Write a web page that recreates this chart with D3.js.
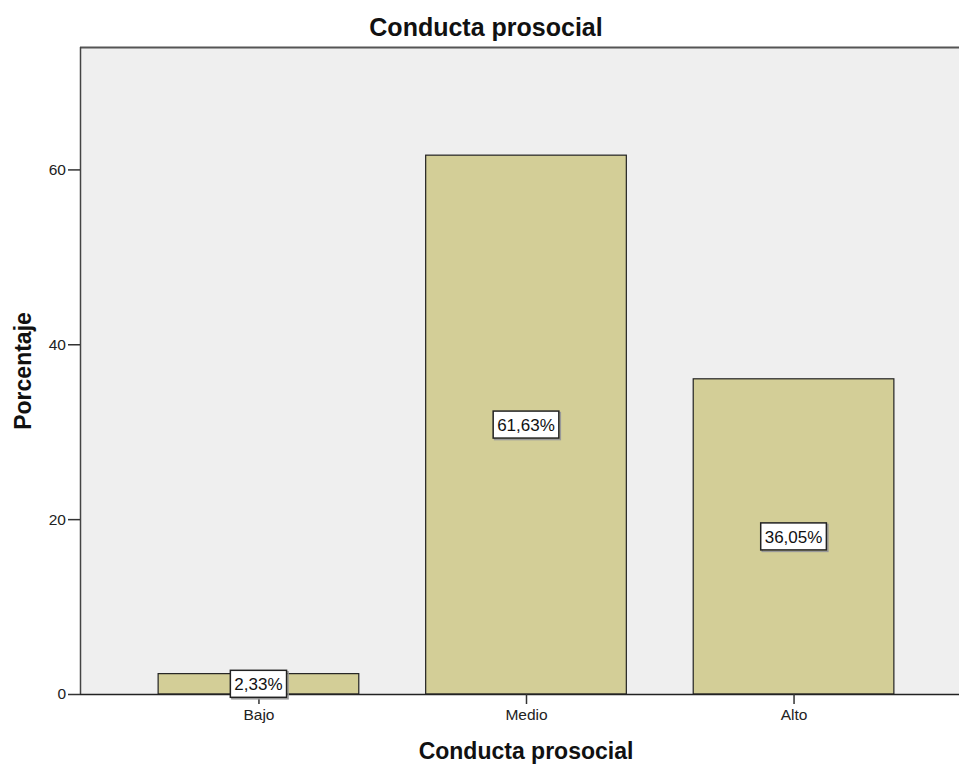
<!DOCTYPE html>
<html>
<head>
<meta charset="utf-8">
<script src="https://cdn.jsdelivr.net/npm/d3@7"></script>
<style>
  html, body { margin: 0; padding: 0; background: #fff; overflow: hidden; }
  svg { display: block; font-family: "Liberation Sans", Arial, sans-serif; }
</style>
</head>
<body>
<svg id="chart" width="959" height="765"></svg>
<script>
const categories = ["Bajo", "Medio", "Alto"];
const percentages = [2.33, 61.63, 36.05];
const valueLabels = ["2,33%", "61,63%", "36,05%"];
const yTicks = [0, 20, 40, 60];
const chartTitle = "Conducta prosocial";
const xTitle = "Conducta prosocial";
const yTitle = "Porcentaje";

const svg = d3.select("#chart");
const plot = { left: 80, right: 972, top: 47, bottom: 694 };

const x = d3.scalePoint().domain(categories).range([plot.left, plot.right]).padding(0.667);
const barW = x.step() * 0.75;
const y = d3.scaleLinear().domain([0, 74]).range([plot.bottom, plot.top]);

// plot background
svg.append("rect")
  .attr("x", plot.left).attr("y", plot.top)
  .attr("width", plot.right - plot.left).attr("height", plot.bottom - plot.top)
  .attr("fill", "#efefef");

// frame top & left
svg.append("line").attr("x1", plot.left).attr("x2", plot.right)
  .attr("y1", plot.top + 0.5).attr("y2", plot.top + 0.5)
  .attr("stroke", "#555").attr("stroke-width", 2);
svg.append("line").attr("x1", plot.left + 0.5).attr("x2", plot.left + 0.5)
  .attr("y1", plot.top).attr("y2", plot.bottom)
  .attr("stroke", "#444").attr("stroke-width", 1.5);

// bars
svg.append("g").selectAll("rect").data(categories).join("rect")
  .attr("x", d => x(d) - barW / 2)
  .attr("y", (d, i) => y(percentages[i]))
  .attr("width", barW)
  .attr("height", (d, i) => y(0) - y(percentages[i]))
  .attr("fill", "#d3ce97")
  .attr("stroke", "#222").attr("stroke-width", 1.2);

// y axis
const yAxis = d3.axisLeft(y).tickValues(yTicks).tickSize(12).tickPadding(2).tickFormat(d3.format("d"));
const gy = svg.append("g").attr("transform", `translate(${plot.left},0)`).call(yAxis);
gy.select(".domain").remove();
gy.selectAll(".tick line").attr("stroke", "#333").attr("stroke-width", 1.5);
gy.selectAll(".tick text").attr("font-size", 15.5).attr("fill", "#222")
  .attr("font-family", "'Liberation Sans', Arial, sans-serif");

// x axis
const xAxis = d3.axisBottom(x).tickSize(10).tickPadding(5);
const gx = svg.append("g").attr("transform", `translate(0,${plot.bottom})`).call(xAxis);
gx.select(".domain").attr("stroke", "#222").attr("stroke-width", 1.5)
  .attr("d", `M${plot.left},0.5H${plot.right}`);
gx.selectAll(".tick line").attr("stroke", "#333").attr("stroke-width", 1.5);
gx.selectAll(".tick text").attr("font-size", 15.5).attr("fill", "#222")
  .attr("font-family", "'Liberation Sans', Arial, sans-serif");

// value labels
const lg = svg.append("g");
categories.forEach((c, i) => {
  const cy = (y(percentages[i]) + y(0)) / 2;
  const g = lg.append("g");
  const t = g.append("text")
    .attr("x", x(c)).attr("y", cy)
    .attr("text-anchor", "middle").attr("dy", "0.36em")
    .attr("font-size", 17).attr("fill", "#111")
    .text(valueLabels[i]);
  const w = t.node().getComputedTextLength() + 8;
  const h = 27;
  g.insert("rect", "text")
    .attr("x", x(c) - w / 2 + 1.5).attr("y", cy - h / 2 + 1.5)
    .attr("width", w).attr("height", h)
    .attr("fill", "none").attr("stroke", "#999").attr("stroke-width", 1.5);
  g.insert("rect", "text")
    .attr("x", x(c) - w / 2).attr("y", cy - h / 2)
    .attr("width", w).attr("height", h)
    .attr("fill", "#fff").attr("stroke", "#222").attr("stroke-width", 1.5);
});

// titles
svg.append("text").attr("x", 486).attr("y", 36)
  .attr("text-anchor", "middle").attr("font-size", 25).attr("font-weight", "bold")
  .attr("fill", "#111").text(chartTitle);
svg.append("text").attr("x", 526).attr("y", 759)
  .attr("text-anchor", "middle").attr("font-size", 23).attr("font-weight", "bold")
  .attr("fill", "#111").text(xTitle);
svg.append("text").attr("transform", "translate(31,371) rotate(-90)")
  .attr("text-anchor", "middle").attr("font-size", 23).attr("font-weight", "bold")
  .attr("fill", "#111").text(yTitle);
</script>
</body>
</html>
